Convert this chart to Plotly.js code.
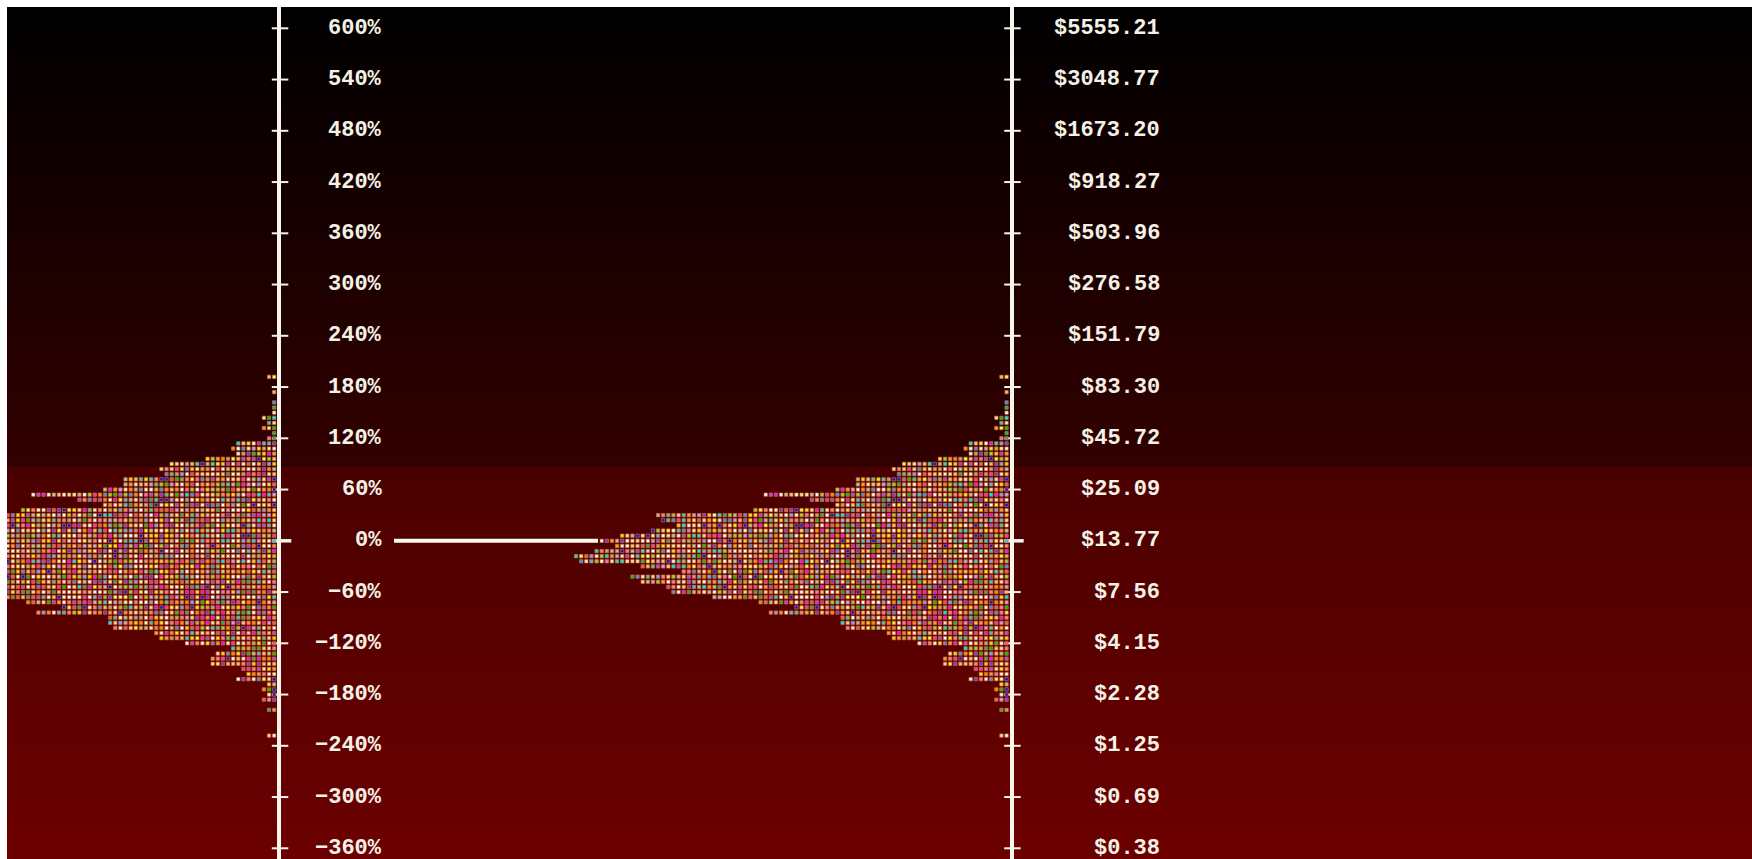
<!DOCTYPE html>
<html><head><meta charset="utf-8">
<script src="https://cdn.plot.ly/plotly-3.0.1.min.js"></script>
<style>html,body{margin:0;padding:0;background:#fff;overflow:hidden}#chart{width:1752px;height:859px}</style>
</head><body><div id="chart"></div>
<script>
// ---------------- DATA ----------------
// log-return bins (%) and number of observations (dots) in each bin
const returnBins = [192,186,180,174,168,162,156,150,144,138,132,126,120,114,108,102,96,90,84,78,72,66,60,54,48,42,36,30,24,18,12,6,0,-6,-12,-18,-24,-30,-36,-42,-48,-54,-60,-66,-72,-78,-84,-90,-96,-102,-108,-114,-120,-126,-132,-138,-144,-150,-156,-162,-168,-174,-180,-186,-192,-198,-204,-210,-216,-222,-228];
const binCounts = [2,0,0,1,0,1,1,1,3,2, 3,1,2,8,9,8,14,21,23,22, 30,30,34,48,39,34,50,69,68,65, 70,76,80,77,81,85,84,72,64,74, 72,67,66,58,49,42,47,33,33,32, 24,23,18,9,12,13,13,7,6,8, 2,3,2,3,0,2,0,0,0,0,2];
const pctTickVals = [600,540,480,420,360,300,240,180,120,60,0,-60,-120,-180,-240,-300,-360];
const pctTickText = ['600%','540%','480%','420%','360%','300%','240%','180%','120%','60%','0%','\u221260%','\u2212120%','\u2212180%','\u2212240%','\u2212300%','\u2212360%'];
const priceTickText = ['$5555.21','$3048.77','$1673.20','$918.27','$503.96','$276.58','$151.79','$83.30','$45.72','$25.09','$13.77','$7.56','$4.15','$2.28','$1.25','$0.69','$0.38'];

// ---------------- LAYOUT GEOMETRY ----------------
const W = 1752, H = 859, PAD = 7;
const plotW = W - PAD, plotH = H - PAD;
const PITCH = 5.125;                 // px per dot column / row
const PX_PER_PCT = 51.25 / 60;
const Y_ZERO_PX = 540.8;
const AX1 = 279.3, AX2 = 1011.7, LW = 4;
const MID_START = 540;
const fx = px => (px - PAD) / plotW;
const fy = py => (H - py) / plotH;

const yTop = (Y_ZERO_PX - PAD) / PX_PER_PCT;
const yBot = -(H - Y_ZERO_PX) / PX_PER_PCT;

function xRange(d0px, d1px) {
  const xmax = -(LW / 2) / PITCH;
  return [xmax - (d1px - d0px) / PITCH, xmax];
}

// ---------------- DOT COLOURS ----------------
const palette = ['#ffffff','#ffffff','#ffffff','#fff6e6','#ffeec0','#ffe6b0','#ffe0a0','#ffd890','#f8c880','#f4c070',
  '#ffd700','#ffee00','#ffff40','#ff9a30','#ff8c00','#ff70b0','#ff30a0','#ff00ff','#b040f0','#8030e0','#1010e0',
  '#4090f0','#60b0ff','#00e8f0','#30d0b0','#20b060','#00c800','#90e020','#b0b060','#b8b8b8','#c0a0ff','#ff8080','#a0d0a0','#e06060'];
function hash(a, b) {
  let h = (a * 374761393 + b * 668265263 + 12345) | 0;
  h = Math.imul(h ^ (h >>> 13), 1274126177);
  h = h ^ (h >>> 16);
  return h >>> 0;
}
function buildDots() {
  const xs = [], ys = [], cs = [];
  for (let i = 0; i < returnBins.length; i++) {
    for (let k = 1; k <= binCounts[i]; k++) {
      xs.push(-k); ys.push(returnBins[i]);
      cs.push(palette[hash(i, k) % palette.length]);
    }
  }
  return {xs, ys, cs};
}
const dots = buildDots();
const markerStyle = {symbol: 'square', size: 3.3, color: dots.cs, line: {color: 'rgba(205,120,70,0.9)', width: 0.75}};

const traces = [
  {type: 'scatter', mode: 'markers', x: dots.xs, y: dots.ys, xaxis: 'x', yaxis: 'y', marker: markerStyle, hoverinfo: 'skip', cliponaxis: true},
  {type: 'scatter', mode: 'markers', x: dots.xs, y: dots.ys, xaxis: 'x2', yaxis: 'y2', marker: markerStyle, hoverinfo: 'skip', cliponaxis: true}
];

// ---------------- SHAPES ----------------
const shapes = [];
// background gradient bands
const BAND = 8, STEP_PX = 467;
for (let y0 = PAD; y0 < H; y0 += BAND) {
  let y1 = Math.min(H, y0 + BAND);
  if (y0 < STEP_PX && y1 > STEP_PX) y1 = STEP_PX;
  const c = (y0 + y1) / 2;
  let r;
  if (c < STEP_PX) r = 50 * (c - PAD) / (STEP_PX - PAD);
  else r = 74 + 34 * (c - STEP_PX) / (H - STEP_PX);
  r = Math.round(r);
  shapes.push({type: 'rect', xref: 'paper', yref: 'paper', x0: 0, x1: 1, y0: fy(y1), y1: fy(y0),
    fillcolor: `rgb(${r},0,0)`, line: {width: 0}, layer: 'below'});
  if (y1 === STEP_PX) y0 = STEP_PX - BAND;
}
// tick marks
const tickCol = '#f6f3ea';
[AX1, AX2].forEach(ax => {
  pctTickVals.forEach(v => {
    if (v === 0) {
      shapes.push({type: 'line', xref: 'paper', yref: 'y', x0: fx(ax - 7.5), x1: fx(ax + 12), y0: v, y1: v,
        line: {color: tickCol, width: 3.5}, layer: 'below'});
    } else {
      shapes.push({type: 'line', xref: 'paper', yref: 'y', x0: fx(ax - 7.5), x1: fx(ax + 9), y0: v, y1: v,
        line: {color: tickCol, width: 2}, layer: 'below'});
    }
  });
});
// horizontal reference line at 0%
shapes.push({type: 'line', xref: 'paper', yref: 'y', x0: fx(394), x1: fx(598), y0: 0, y1: 0,
  line: {color: '#fbf8f0', width: 4}, layer: 'below'});

// ---------------- LABELS ----------------
const labelFont = {family: 'Liberation Mono, DejaVu Sans Mono, monospace', size: 22, color: '#f4f1e6', weight: 'bold'};
const annotations = [];
pctTickVals.forEach((v, i) => {
  annotations.push({xref: 'paper', yref: 'y', x: fx(383), y: v, text: pctTickText[i], showarrow: false,
    xanchor: 'right', yanchor: 'middle', font: labelFont, borderpad: 0});
  annotations.push({xref: 'paper', yref: 'y', x: fx(1161), y: v, text: priceTickText[i], showarrow: false,
    xanchor: 'right', yanchor: 'middle', font: labelFont, borderpad: 0});
});

const hiddenX = {showline: false, showgrid: false, zeroline: false, showticklabels: false, ticks: '', fixedrange: true};
const yCommon = {range: [yBot, yTop], side: 'right', showline: true, linecolor: '#f8f5ec', linewidth: LW,
  showgrid: false, zeroline: false, ticks: '', showticklabels: false, layer: 'below traces', fixedrange: true, domain: [0, 1]};

const layout = {
  width: W, height: H, autosize: false,
  margin: {l: PAD, t: PAD, r: 0, b: 0, pad: 0},
  paper_bgcolor: '#ffffff', plot_bgcolor: 'rgba(0,0,0,0)',
  showlegend: false,
  xaxis: Object.assign({}, hiddenX, {domain: [0, fx(AX1 - LW / 2)], range: xRange(PAD, AX1 - LW / 2), anchor: 'y'}),
  xaxis2: Object.assign({}, hiddenX, {domain: [fx(MID_START), fx(AX2 - LW / 2)], range: xRange(MID_START, AX2 - LW / 2), anchor: 'y2'}),
  yaxis: Object.assign({}, yCommon, {anchor: 'x'}),
  yaxis2: Object.assign({}, yCommon, {anchor: 'x2'}),
  shapes, annotations
};

Plotly.newPlot('chart', traces, layout, {staticPlot: true, displayModeBar: false});
</script>
</body></html>
